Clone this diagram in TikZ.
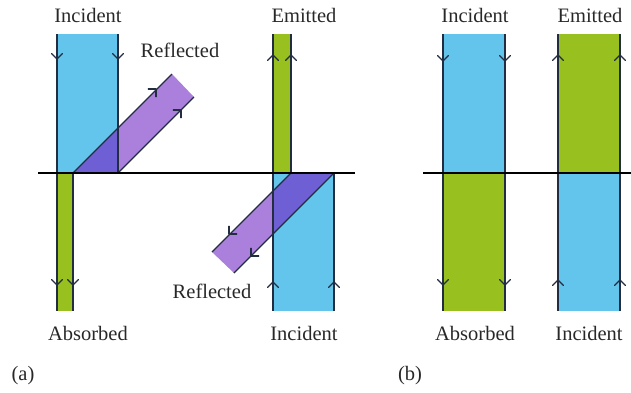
\documentclass[tikz,border=0pt]{standalone}
\usepackage{fontspec}
\setmainfont{Liberation Serif}
\definecolor{beamblue}{RGB}{99,196,236}
\definecolor{beamgreen}{RGB}{152,192,30}
\definecolor{beampurple}{RGB}{170,128,220}
\definecolor{overlap}{RGB}{110,96,212}
\definecolor{edgecol}{RGB}{35,45,65}
\definecolor{textcol}{RGB}{40,40,40}
\begin{document}
\begin{tikzpicture}[x=1pt,y=-1pt,
  edge/.style={draw=edgecol,line width=1.1pt},
  lbl/.style={font=\fontsize{20.5}{24}\selectfont, text=textcol, inner sep=0pt, anchor=base},
  surface/.style={draw=black,line width=1.8pt},
  chevron/.pic={\draw[edgecol,line width=1.1pt,line cap=round,line join=round] (-5.5,-5.5) .. controls (-2.5,-3.5) .. (0,0) .. controls (2.5,-3.5) .. (5.5,-5.5);}]
\useasboundingbox (0,0) rectangle (631,392);
% ---------- panel (a) fills ----------
\fill[beamblue] (57,34) rectangle (118,173);
\fill[beamgreen] (57,173) rectangle (73,311);
\fill[beampurple] (73,173) -- (172,74) -- (194,97) -- (118,173) -- cycle;
\fill[overlap] (73,173) -- (118,128) -- (118,173) -- cycle;
\fill[beamgreen] (273,34) rectangle (291,173);
\fill[beamblue] (273,173) rectangle (334,311);
\fill[beampurple] (291,173) -- (212,252) -- (234,273) -- (334,173) -- cycle;
\fill[overlap] (291,173) -- (334,173) -- (273,234) -- (273,191) -- cycle;
% ---------- panel (a) edges ----------
\draw[edge] (57,34) -- (57,311);
\draw[edge] (118,34) -- (118,173);
\draw[edge] (73,173) -- (73,311);
\draw[edge] (73,173) -- (172,74);
\draw[edge] (118,173) -- (194,97);
\draw[edge] (273,34) -- (273,311);
\draw[edge] (291,34) -- (291,173);
\draw[edge] (334,173) -- (334,311);
\draw[edge] (291,173) -- (212,252);
\draw[edge] (334,173) -- (234,273);
\draw[surface] (38,173) -- (355,173);
% arrows (a)
\pic at (57,59) {chevron};
\pic at (118,59) {chevron};
\pic at (57,285) {chevron};
\pic at (73,285) {chevron};
\pic[rotate=135] at (156,89) {chevron};
\pic[rotate=135] at (181,110) {chevron};
\pic[rotate=180] at (273,55) {chevron};
\pic[rotate=180] at (291,55) {chevron};
\pic[rotate=-45] at (229,234) {chevron};
\pic[rotate=-45] at (251,256) {chevron};
\pic[rotate=180] at (273,282) {chevron};
\pic[rotate=180] at (334,282) {chevron};
% labels (a)
\node[lbl] (inca) at (88,22) {Incident};
\node[lbl] (refa1) at (180,57) {Reflected};
\node[lbl] (emia) at (304,22) {Emitted};
\node[lbl] (absa) at (88,340) {Absorbed};
\node[lbl] (refa2) at (212,298) {Reflected};
\node[lbl] (incb2a) at (304,340) {Incident};
\node[lbl] (capa) at (23,380) {(a)};
% ---------- panel (b) ----------
\fill[beamblue] (443,34) rectangle (505,173);
\fill[beamgreen] (443,173) rectangle (505,311);
\fill[beamgreen] (558,34) rectangle (620,173);
\fill[beamblue] (558,173) rectangle (620,311);
\draw[edge] (443,34) -- (443,311);
\draw[edge] (505,34) -- (505,311);
\draw[edge] (558,34) -- (558,311);
\draw[edge] (620,34) -- (620,311);
\draw[surface] (423,173) -- (631,173);
\pic at (443,61) {chevron};
\pic at (505,61) {chevron};
\pic at (443,285) {chevron};
\pic at (505,285) {chevron};
\pic[rotate=180] at (558,55) {chevron};
\pic[rotate=180] at (620,55) {chevron};
\pic[rotate=180] at (558,280) {chevron};
\pic[rotate=180] at (620,280) {chevron};
\node[lbl] (incb) at (475,22) {Incident};
\node[lbl] (emib) at (590,22) {Emitted};
\node[lbl] (absb) at (475,340) {Absorbed};
\node[lbl] (incb2) at (589,340) {Incident};
\node[lbl] (capb) at (410,380) {(b)};
\end{tikzpicture}
\end{document}
